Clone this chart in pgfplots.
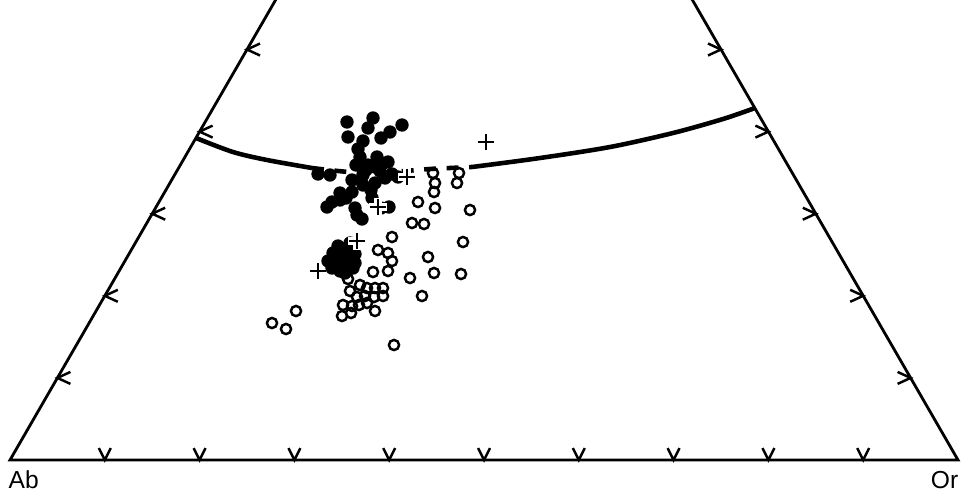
\documentclass[border=0pt]{standalone}
\usepackage{pgfplots}
\pgfplotsset{compat=1.18}
\usepackage{fontspec}
\setmainfont{Liberation Sans}
\pgfdeclareplotmark{tkdown}{\pgfpathmoveto{\pgfqpoint{-1.7pt}{3.4pt}}\pgfpathlineto{\pgfqpoint{0pt}{0pt}}\pgfpathlineto{\pgfqpoint{1.7pt}{3.4pt}}\pgfusepathqstroke}
\pgfdeclareplotmark{tkleft}{\pgfpathmoveto{\pgfqpoint{3.7pt}{1.7pt}}\pgfpathlineto{\pgfqpoint{0pt}{0pt}}\pgfpathlineto{\pgfqpoint{3.7pt}{-1.7pt}}\pgfusepathqstroke}
\pgfdeclareplotmark{tkright}{\pgfpathmoveto{\pgfqpoint{-3.7pt}{1.7pt}}\pgfpathlineto{\pgfqpoint{0pt}{0pt}}\pgfpathlineto{\pgfqpoint{-3.7pt}{-1.7pt}}\pgfusepathqstroke}
\begin{document}
\begin{tikzpicture}
\begin{axis}[scale only axis, width=9.64cm, height=4.92cm,
  xmin=-10, xmax=954, ymin=-32, ymax=460, hide axis, clip=true]
\path (rel axis cs:0,0) rectangle (rel axis cs:1,1);
% triangle Ab-Or-An (side 948 units)
\addplot[black, line width=0.8pt] coordinates {(474,821) (0,0) (948,0) (474,821)};
% 10% ticks
\addplot[only marks, mark=tkdown, mark options={line width=0.7pt}] coordinates {
(94.8,0) (189.6,0) (284.4,0) (379.2,0) (474,0) (568.8,0) (663.6,0) (758.4,0) (853.2,0)};
\addplot[only marks, mark=tkleft, mark options={line width=0.7pt}] coordinates {
(47.4,82.1) (94.8,164.2) (142.2,246.3) (189.6,328.4) (237,410.5)};
\addplot[only marks, mark=tkright, mark options={line width=0.7pt}] coordinates {
(900.6,82.1) (853.2,164.2) (805.8,246.3) (758.4,328.4) (711,410.5)};
% solvus curve
\addplot[black, line width=1.3pt, smooth] coordinates {(186,322) (223,308) (257,300) (302,292)};
\addplot[black, line width=1.3pt, smooth, dash pattern=on 3.4pt off 3pt] coordinates {(302,292) (340,288) (380,288) (420,291) (462,293)};
\addplot[black, line width=1.3pt, smooth] coordinates {(462,293) (530,302) (600,313) (663,327) (713,341) (745,352)};
% open circles
\addplot[only marks, mark=o, mark size=1.45pt, mark options={line width=0.7pt, black}] coordinates {
(423,287) (449,287) (447,277) (425,277) (424,268) (408,258) (425,252) (460,250)
(402,237) (414,236) (453,218) (418,203) (400,182) (424,187) (451,186) (412,164)
(382,223) (368,210) (378,207) (382,199) (378,189) (363,188) (338,181) (350,175)
(340,169) (357,172) (365,172) (373,172) (347,163) (355,164) (364,163) (373,164)
(333,155) (342,154) (349,155) (357,157) (365,149) (332,144) (341,147) (286,149)
(262,137) (276,131) (384,115)};
% filled circles
\addplot[only marks, mark=*, mark size=1.7pt, mark options={black, draw=black}] coordinates {
(337,338) (363,342) (358,332) (392,335) (380,328) (338,323) (353,319) (371,322)
(348,311) (350,303) (367,303) (378,298) (365,293) (308,286) (320,285) (342,280)
(353,285) (370,289) (382,286) (388,283) (353,275) (365,277) (330,267) (322,258)
(317,253) (330,260) (345,252) (347,245) (352,241) (371,252) (379,253) (361,270)
(342,268) (375,282) (358,295) (346,295) (356,290) (372,296) (362,262) (336,262)
(328,214) (337,212) (323,207) (333,202) (342,200) (318,199) (327,195) (338,194)
(343,192) (330,189) (322,192) (335,187) (345,197) (332,208) (345,206) (340,217)};
% crosses
\addplot[only marks, mark=+, mark size=2.5pt, mark options={white, line width=2pt}] coordinates {
(397,283) (368,253) (347,219)};
\addplot[only marks, mark=+, mark size=2.3pt, mark options={black, line width=0.8pt}] coordinates {
(476,318) (397,283) (368,253) (347,219) (308,189)};
\node[anchor=base west, inner sep=0pt, font=\fontsize{7}{8}\selectfont] at (axis cs:-2,-28) {Ab};
\node[anchor=base east, inner sep=0pt, font=\fontsize{7}{8}\selectfont] at (axis cs:949,-28) {Or};
\end{axis}
\end{tikzpicture}
\end{document}
